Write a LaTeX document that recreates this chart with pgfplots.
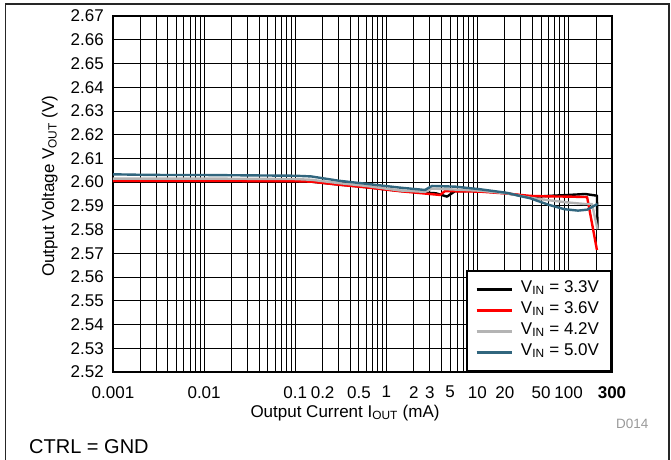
\documentclass[border=0pt]{standalone}
\usepackage{fontspec}
\setmainfont{Liberation Sans}
\usepackage{pgfplots}
\pgfplotsset{compat=1.18}
\definecolor{tiblue}{HTML}{31667E}
\definecolor{tigray}{HTML}{B4B4B4}
\newcommand{\tickfont}{\fontsize{17}{20}\selectfont}
\begin{document}
\begin{tikzpicture}[x=1pt,y=1pt]
\useasboundingbox (0,0) rectangle (671,459);
\draw[line width=1.3pt, black!85] (5.5,-2) -- (5.5,455) -- (669,455) -- (669,-2);
\begin{axis}[
  at={(113pt,87pt)}, anchor=south west,
  scale only axis, width=499pt, height=356pt,
  xmode=log, log basis x=10,
  xmin=0.001, xmax=300, ymin=2.52, ymax=2.67,
  xtick={0.001,0.01,0.1,0.2,0.5,1,2,3,5,10,20,50,100,300},
  xticklabels={0.001,0.01,0.1,0.2,0.5,1,2,3,5,10,20,50,100,\textbf{300}},
  minor xtick={0.002,0.003,0.004,0.005,0.006,0.007,0.008,0.009,
    0.02,0.03,0.04,0.05,0.06,0.07,0.08,0.09,
    0.3,0.4,0.6,0.7,0.8,0.9,
    4,6,7,8,9,30,40,60,70,80,90,200},
  ytick={2.52,2.53,2.54,2.55,2.56,2.57,2.58,2.59,2.60,2.61,2.62,2.63,2.64,2.65,2.66,2.67},
  yticklabels={2.52,2.53,2.54,2.55,2.56,2.57,2.58,2.59,2.60,2.61,2.62,2.63,2.64,2.65,2.66,2.67},
  grid=both,
  major grid style={line width=0.8pt, black},
  minor grid style={line width=0.8pt, black},
  tick style={draw=none},
  axis line style={line width=2pt, black},
  xticklabel style={font=\tickfont, inner sep=0pt, anchor=north, yshift=-14pt},
  yticklabel style={font=\tickfont, inner sep=0pt, anchor=east, xshift=-9pt},
  xlabel={Output Current I\textsubscript{OUT} (mA)},
  ylabel={Output Voltage V\textsubscript{OUT} (V)},
  xlabel style={font=\tickfont, at={(axis description cs:0.465,-0.127)}, anchor=base, inner sep=0pt},
  ylabel style={font=\tickfont, at={(axis description cs:-0.118,0.522)}, anchor=base, rotate=0, inner sep=0pt},
  legend style={at={(1,0)}, anchor=south east, draw=black, line width=2pt, fill=white,
    font=\tickfont, inner xsep=8pt, inner ysep=8pt, row sep=0pt,
    nodes={inner xsep=4pt, inner ysep=0pt, text height=13pt, text depth=8pt},
    /tikz/every odd column/.append style={column sep=4pt}},
  legend cell align=left,
  legend image code/.code={\draw[#1, line width=2.6pt] (0pt,0pt) -- (35pt,0pt);},
  every axis plot/.append style={line width=2.4pt, line join=round},
]
\addplot[black] coordinates {
(0.001,2.6005) (0.01,2.6005) (0.1,2.6004) (0.15,2.6002) (0.3,2.5990) (0.6,2.5979)
(1.4,2.5963) (3.5,2.5953) (4.64,2.5939) (5.68,2.5962) (10.7,2.5963) (21,2.5953)
(38,2.5937) (60,2.5942) (100,2.5946) (152,2.5950) (205,2.5943) (208,2.5801)};
\addlegendentry{V\textsubscript{IN} = 3.3V}
\addplot[red] coordinates {
(0.001,2.6005) (0.01,2.6005) (0.1,2.6004) (0.15,2.6002) (0.3,2.5989) (0.6,2.5978)
(1.4,2.5962) (3.88,2.5946) (4.41,2.5962) (10.7,2.5960) (21,2.5952)
(38,2.5942) (60,2.5940) (100,2.5939) (160,2.5937) (205,2.5714)};
\addlegendentry{V\textsubscript{IN} = 3.6V}
\addplot[tigray] coordinates {
(0.001,2.6015) (0.01,2.6015) (0.1,2.6013) (0.15,2.6010) (0.3,2.5996) (0.6,2.5984)
(1.4,2.5965) (2.66,2.5959) (3.17,2.5973) (10.7,2.5964) (21,2.5953)
(38,2.5934) (60,2.5924) (100,2.5914) (150,2.5908) (181,2.5908) (208,2.5802)};
\addlegendentry{V\textsubscript{IN} = 4.2V}
\addplot[tiblue] coordinates {
(0.001,2.6033) (0.002,2.6031) (0.004,2.6030) (0.01,2.6030) (0.1,2.6027) (0.15,2.6024)
(0.3,2.6006) (0.6,2.5993) (1.4,2.5977) (2.66,2.5967) (3.17,2.5984) (5.7,2.5981)
(10.7,2.5970) (21,2.5955) (29,2.5942) (38,2.5932) (60,2.5905) (90,2.5886)
(127,2.5880) (160,2.5884) (208,2.5908)};
\addlegendentry{V\textsubscript{IN} = 5.0V}
\end{axis}
\node[anchor=base west, inner sep=0pt, font=\fontsize{20}{24}\selectfont] at (29,6) {CTRL = GND};
\node[anchor=base west, inner sep=0pt, font=\fontsize{13.5}{16}\selectfont, text=black!40] at (616,31) {D014};
\end{tikzpicture}
\end{document}
